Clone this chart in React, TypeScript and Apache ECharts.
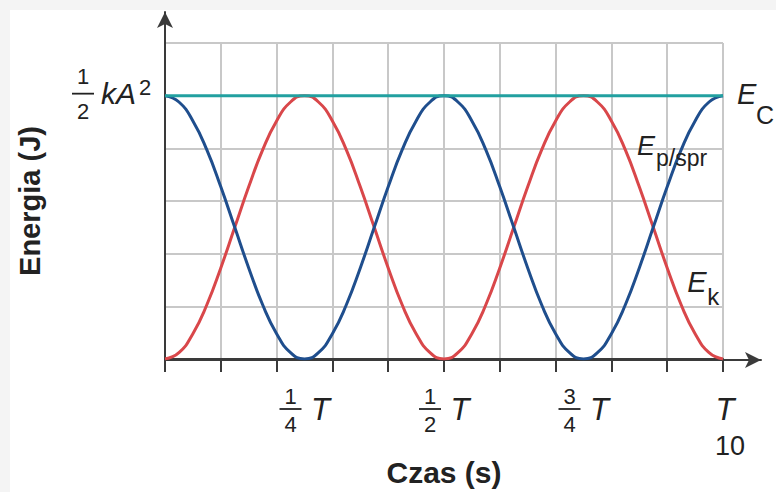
import { useEffect, useRef } from "react";
import * as echarts from "echarts";

// time in tenths of the period T
const timeTenths = [
  0, 0.25, 0.5, 0.75, 1, 1.25, 1.5, 1.75, 2, 2.25, 2.5, 2.75, 3, 3.25, 3.5, 3.75, 4, 4.25, 4.5, 4.75,
  5, 5.25, 5.5, 5.75, 6, 6.25, 6.5, 6.75, 7, 7.25, 7.5, 7.75, 8, 8.25, 8.5, 8.75, 9, 9.25, 9.5, 9.75, 10,
];
// spring potential energy (blue)
const potentialEnergy = [
  5, 4.88, 4.52, 3.97, 3.27, 2.5, 1.73, 1.03, 0.48, 0.12, 0, 0.12, 0.48, 1.03, 1.73, 2.5, 3.27, 3.97, 4.52, 4.88,
  5, 4.88, 4.52, 3.97, 3.27, 2.5, 1.73, 1.03, 0.48, 0.12, 0, 0.12, 0.48, 1.03, 1.73, 2.5, 3.27, 3.97, 4.52, 4.88, 5,
];
// kinetic energy (red)
const kineticEnergy = [
  0, 0.12, 0.48, 1.03, 1.73, 2.5, 3.27, 3.97, 4.52, 4.88, 5, 4.88, 4.52, 3.97, 3.27, 2.5, 1.73, 1.03, 0.48, 0.12,
  0, 0.12, 0.48, 1.03, 1.73, 2.5, 3.27, 3.97, 4.52, 4.88, 5, 4.88, 4.52, 3.97, 3.27, 2.5, 1.73, 1.03, 0.48, 0.12, 0,
];
// total energy (teal)
const totalTime = [0, 10];
const totalEnergy = [5, 5];

const xTickValues = [2.5, 5, 7.5, 10];
const xTickNumerators = ["1", "1", "3", ""];
const xTickDenominators = ["4", "2", "4", ""];
const xTickSymbol = "T";
const yLabelValue = 5;

const FONT = '"Liberation Sans", Arial, sans-serif';
const INK = "#222";
const RED = "#d9474a";
const BLUE = "#1f4e8d";
const TEAL = "#22a0a0";

export default function App() {
  const ref = useRef<HTMLDivElement>(null);

  useEffect(() => {
    if (!ref.current) return;
    const chart = echarts.init(ref.current, null, { renderer: "svg" });
    const axisColor = "#3a3a3a";
    chart.setOption({
      animation: false,
      backgroundColor: "transparent",
      grid: [
        { left: 165, top: 43, width: 558, height: 317 },
        { left: 165, top: 12, right: 15, bottom: 132 },
      ],
      xAxis: [
        {
          type: "value",
          gridIndex: 0,
          min: 0,
          max: 10,
          interval: 1,
          axisLine: { show: true, onZero: false, lineStyle: { color: axisColor, width: 2 } },
          axisTick: { show: true, length: 13, lineStyle: { color: axisColor, width: 2 } },
          axisLabel: { show: false },
          splitLine: { show: true, lineStyle: { color: "#c8c8c8", width: 2 } },
          name: "Czas (s)",
          nameLocation: "middle",
          nameGap: 98,
          nameTextStyle: { fontFamily: FONT, fontWeight: "bold", fontSize: 30, color: INK },
        },
        {
          type: "value",
          gridIndex: 1,
          min: 0,
          max: 1,
          axisLine: {
            show: true,
            onZero: false,
            symbol: ["none", "arrow"],
            symbolSize: [12, 16],
            lineStyle: { color: axisColor, width: 2 },
          },
          axisTick: { show: false },
          axisLabel: { show: false },
          splitLine: { show: false },
        },
      ],
      yAxis: [
        {
          type: "value",
          gridIndex: 0,
          min: 0,
          max: 6,
          interval: 1,
          axisLine: { show: true, onZero: false, lineStyle: { color: axisColor, width: 2 } },
          axisTick: { show: false },
          axisLabel: { show: false },
          splitLine: { show: true, lineStyle: { color: "#c8c8c8", width: 2 } },
          name: "Energia (J)",
          nameLocation: "middle",
          nameGap: 121,
          nameRotate: 90,
          nameTextStyle: { fontFamily: FONT, fontWeight: "bold", fontSize: 29, color: INK },
        },
        {
          type: "value",
          gridIndex: 1,
          min: 0,
          max: 1,
          axisLine: {
            show: true,
            onZero: false,
            symbol: ["none", "arrow"],
            symbolSize: [12, 16],
            lineStyle: { color: axisColor, width: 2 },
          },
          axisTick: { show: false },
          axisLabel: { show: false },
          splitLine: { show: false },
        },
      ],
      series: [
        {
          name: "E_k",
          type: "line",
          xAxisIndex: 0,
          yAxisIndex: 0,
          showSymbol: false,
          smooth: true,
          data: timeTenths.map((t, i) => [t, kineticEnergy[i]]),
          lineStyle: { color: RED, width: 3 },
          z: 3,
        },
        {
          name: "E_p/spr",
          type: "line",
          xAxisIndex: 0,
          yAxisIndex: 0,
          showSymbol: false,
          smooth: true,
          data: timeTenths.map((t, i) => [t, potentialEnergy[i]]),
          lineStyle: { color: BLUE, width: 3 },
          z: 4,
        },
        {
          name: "E_C",
          type: "line",
          xAxisIndex: 0,
          yAxisIndex: 0,
          showSymbol: false,
          data: totalTime.map((t, i) => [t, totalEnergy[i]]),
          lineStyle: { color: TEAL, width: 3 },
          z: 5,
        },
      ],
    });

    const px = (x: number, y: number) =>
      chart.convertToPixel({ xAxisIndex: 0, yAxisIndex: 0 }, [x, y]) as number[];

    const txt = (text: string, x: number, y: number, size: number, opts: any = {}) => ({
      type: "text",
      silent: true,
      style: {
        text,
        x,
        y,
        fill: INK,
        fontFamily: FONT,
        fontSize: size,
        fontStyle: opts.italic ? "italic" : "normal",
        fontWeight: opts.bold ? "bold" : "normal",
        align: opts.align || "center",
        verticalAlign: "middle",
      },
      z: 100,
    });
    const bar = (x1: number, x2: number, y: number) => ({
      type: "line",
      silent: true,
      shape: { x1, y1: y, x2, y2: y },
      style: { stroke: INK, lineWidth: 1.8 },
      z: 100,
    });

    const graphics: any[] = [];

    // x tick labels (fractions of T)
    xTickValues.forEach((v, i) => {
      const [x, y] = px(v, 0);
      if (xTickNumerators[i]) {
        graphics.push(txt(xTickNumerators[i], x - 14, y + 37, 22));
        graphics.push(bar(x - 25, x - 3, y + 50));
        graphics.push(txt(xTickDenominators[i], x - 14, y + 65, 22));
        graphics.push(txt(xTickSymbol, x + 16, y + 50, 31, { italic: true }));
      } else {
        graphics.push(txt(xTickSymbol, x + 2, y + 50, 31, { italic: true }));
      }
    });

    // y label: 1/2 kA^2
    {
      const [x, y] = px(0, yLabelValue);
      graphics.push(txt("1", x - 82, y - 19, 22));
      graphics.push(bar(x - 93, x - 71, y - 2));
      graphics.push(txt("2", x - 82, y + 16, 22));
      graphics.push(txt("kA", x - 64, y - 2, 30, { italic: true, align: "left" }));
      graphics.push(txt("2", x - 26, y - 8, 22, { align: "left" }));
    }

    // series labels
    {
      const [x, y] = px(10, 5);
      graphics.push(txt("E", x + 14, y - 2, 29, { italic: true, align: "left" }));
      graphics.push(txt("C", x + 33, y + 19, 25, { align: "left" }));
    }
    {
      const [x, y] = px(8.46, 4);
      graphics.push(txt("E", x, y - 2, 27, { italic: true, align: "left" }));
      graphics.push(txt("p/spr", x + 19, y + 10, 23, { align: "left" }));
    }
    {
      const [x, y] = px(9.36, 1.46);
      graphics.push(txt("E", x, y + 0, 29, { italic: true, align: "left" }));
      graphics.push(txt("k", x + 20, y + 14, 24, { align: "left" }));
    }
    // page number below T
    {
      const [x, y] = px(10, 0);
      graphics.push(txt("10", x + 7, y + 87, 27));
    }

    chart.setOption({ graphic: graphics });

    return () => chart.dispose();
  }, []);

  return (
    <div style={{ position: "fixed", left: 0, top: 0, width: 776, height: 492, background: "#f4f4f4" }}>
      <div style={{ position: "absolute", left: 10, top: 10, right: 0, bottom: 0, background: "#fff" }} />
      <div ref={ref} style={{ position: "absolute", left: 0, top: 0, width: 776, height: 492 }} />
    </div>
  );
}
